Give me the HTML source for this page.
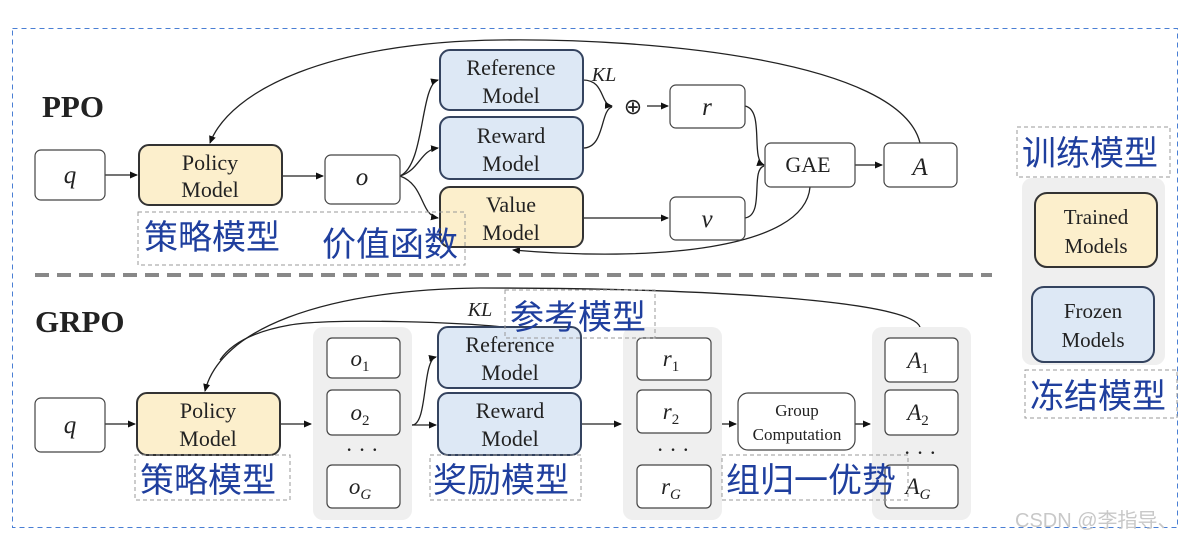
<!DOCTYPE html>
<html><head><meta charset="utf-8"><style>
body{margin:0;background:#fff;}
svg{display:block;}
.s{font-family:"Liberation Serif",serif;fill:#222;}
.cn{font-family:"Liberation Sans","Noto Sans CJK SC",sans-serif;fill:#1f3f9e;font-size:34px;}
</style></head><body>
<svg width="1204" height="537" viewBox="0 0 1204 537" xmlns="http://www.w3.org/2000/svg">
<defs><marker id="ar" markerWidth="8" markerHeight="8" refX="7" refY="4" orient="auto" markerUnits="userSpaceOnUse"><path d="M0,0.5 L8,4 L0,7.5z" fill="#111"/></marker></defs>
<rect x="12.5" y="28.5" width="1165" height="499" fill="none" stroke="#4a7fd4" stroke-dasharray="5,4"/>
<line x1="35" y1="275" x2="992" y2="275" stroke="#888" stroke-width="4" stroke-dasharray="14,8"/>
<g fill="none" stroke="#222" stroke-width="1.3">
<line x1="105" y1="175" x2="137" y2="175" marker-end="url(#ar)"/>
<line x1="282" y1="176" x2="323" y2="176" marker-end="url(#ar)"/>
<path d="M400,176 C425,165 420,85 438,80" marker-end="url(#ar)"/>
<path d="M400,176 C420,170 420,150 438,148" marker-end="url(#ar)"/>
<path d="M400,176 C425,185 420,215 438,218" marker-end="url(#ar)"/>
<path d="M583,80 C605,80 600,105 612,106" marker-end="url(#ar)"/>
<path d="M583,148 C605,148 600,110 612,107"/>
<line x1="647" y1="106" x2="668" y2="106" marker-end="url(#ar)"/>
<line x1="583" y1="218" x2="668" y2="218" marker-end="url(#ar)"/>
<path d="M745,106 C765,110 750,160 764,165" marker-end="url(#ar)"/>
<path d="M745,218 C765,215 750,170 764,166"/>
<line x1="855" y1="165" x2="882" y2="165" marker-end="url(#ar)"/>
<path d="M920,143 C900,60 650,38 500,40 C330,42 230,90 210,143" marker-end="url(#ar)"/>
<path d="M810,187 C805,250 650,262 513,250" marker-end="url(#ar)"/>
<line x1="105" y1="424" x2="135" y2="424" marker-end="url(#ar)"/>
<line x1="280" y1="424" x2="311" y2="424" marker-end="url(#ar)"/>
<path d="M412,425 C428,425 422,360 436,357" marker-end="url(#ar)"/>
<line x1="412" y1="425" x2="436" y2="425" marker-end="url(#ar)"/>
<line x1="581" y1="424" x2="621" y2="424" marker-end="url(#ar)"/>
<line x1="722" y1="424" x2="736" y2="424" marker-end="url(#ar)"/>
<line x1="855" y1="424" x2="870" y2="424" marker-end="url(#ar)"/>
<path d="M920,327 C910,300 700,288 480,288 C320,290 220,330 205,391" marker-end="url(#ar)"/>
<path d="M510,328 C470,322 330,318 290,325 C250,332 230,345 220,360"/>
</g>
<g stroke="#444" stroke-width="1.2">
<rect x="35" y="150" width="70" height="50" rx="6" fill="#fff"/>
<rect x="139" y="145" width="143" height="60" rx="10" fill="#fcefcc" stroke="#333" stroke-width="2"/>
<rect x="325" y="155" width="75" height="49" rx="6" fill="#fff"/>
<rect x="440" y="50" width="143" height="60" rx="10" fill="#dde8f5" stroke="#34435f" stroke-width="2"/>
<rect x="440" y="117" width="143" height="62" rx="10" fill="#dde8f5" stroke="#34435f" stroke-width="2"/>
<rect x="440" y="187" width="143" height="60" rx="10" fill="#fcefcc" stroke="#333" stroke-width="2"/>
<rect x="670" y="85" width="75" height="43" rx="6" fill="#fff"/>
<rect x="670" y="197" width="75" height="43" rx="6" fill="#fff"/>
<rect x="765" y="143" width="90" height="44" rx="6" fill="#fff"/>
<rect x="884" y="143" width="73" height="44" rx="6" fill="#fff"/>
</g>
<g class="s" text-anchor="middle" font-size="22">
<text x="210" y="170">Policy</text><text x="210" y="197">Model</text>
<text x="511" y="75">Reference</text><text x="511" y="103">Model</text>
<text x="511" y="143">Reward</text><text x="511" y="171">Model</text>
<text x="511" y="212">Value</text><text x="511" y="240">Model</text>
<text x="808" y="172">GAE</text>
<text x="70" y="183" font-style="italic" font-size="25">q</text>
<text x="362" y="185" font-style="italic" font-size="25">o</text>
<text x="707" y="115" font-style="italic" font-size="25">r</text>
<text x="707" y="227" font-style="italic" font-size="25">v</text>
<text x="920" y="175" font-style="italic" font-size="25">A</text>
<text x="604" y="81" font-style="italic" font-size="20">KL</text>
<text x="633" y="114" font-size="22">⊕</text>
</g>
<text class="s" x="42" y="117" font-size="31" font-weight="bold">PPO</text>
<text class="s" x="35" y="332" font-size="31" font-weight="bold">GRPO</text>
<g fill="#efefef">
<rect x="313" y="327" width="99" height="193" rx="10"/>
<rect x="623" y="327" width="99" height="193" rx="10"/>
<rect x="872" y="327" width="99" height="193" rx="10"/>
<rect x="1022" y="178" width="143" height="187" rx="10"/>
</g>
<g stroke="#444" stroke-width="1.2" fill="#fff">
<rect x="35" y="398" width="70" height="54" rx="6"/>
<rect x="137" y="393" width="143" height="62" rx="10" fill="#fcefcc" stroke="#333" stroke-width="2"/>
<rect x="438" y="327" width="143" height="61" rx="10" fill="#dde8f5" stroke="#34435f" stroke-width="2"/>
<rect x="438" y="393" width="143" height="62" rx="10" fill="#dde8f5" stroke="#34435f" stroke-width="2"/>
<rect x="327" y="338" width="73" height="40" rx="5"/>
<rect x="327" y="390" width="73" height="45" rx="5"/>
<rect x="327" y="465" width="73" height="43" rx="5"/>
<rect x="637" y="338" width="74" height="42" rx="5"/>
<rect x="637" y="390" width="74" height="43" rx="5"/>
<rect x="637" y="465" width="74" height="43" rx="5"/>
<rect x="738" y="393" width="117" height="57" rx="10"/>
<rect x="885" y="338" width="73" height="44" rx="5"/>
<rect x="885" y="390" width="73" height="45" rx="5"/>
<rect x="885" y="465" width="73" height="43" rx="5"/>
<rect x="1035" y="193" width="122" height="74" rx="12" fill="#fcefcc" stroke="#333" stroke-width="2"/>
<rect x="1032" y="287" width="122" height="75" rx="12" fill="#dde8f5" stroke="#34435f" stroke-width="2"/>
</g>
<g class="s" text-anchor="middle" font-size="22">
<text x="208" y="418">Policy</text><text x="208" y="446">Model</text>
<text x="510" y="352">Reference</text><text x="510" y="380">Model</text>
<text x="510" y="418">Reward</text><text x="510" y="446">Model</text>
<text x="797" y="416" font-size="17">Group</text><text x="797" y="440" font-size="17">Computation</text>
<text x="1096" y="224" font-size="21">Trained</text><text x="1096" y="253" font-size="21">Models</text>
<text x="1093" y="318" font-size="21">Frozen</text><text x="1093" y="347" font-size="21">Models</text>
<text x="70" y="433" font-style="italic" font-size="25">q</text>
<text x="480" y="316" font-style="italic" font-size="20">KL</text>
<g font-style="italic" font-size="23">
<text x="360" y="366">o<tspan font-size="15" dy="5" font-style="normal">1</tspan></text>
<text x="360" y="420">o<tspan font-size="15" dy="5" font-style="normal">2</tspan></text>
<text x="360" y="494">o<tspan font-size="15" dy="5">G</tspan></text>
<text x="671" y="366">r<tspan font-size="15" dy="5" font-style="normal">1</tspan></text>
<text x="671" y="419">r<tspan font-size="15" dy="5" font-style="normal">2</tspan></text>
<text x="671" y="494">r<tspan font-size="15" dy="5">G</tspan></text>
<text x="918" y="368">A<tspan font-size="15" dy="5" font-style="normal">1</tspan></text>
<text x="918" y="420">A<tspan font-size="15" dy="5" font-style="normal">2</tspan></text>
<text x="918" y="494">A<tspan font-size="15" dy="5">G</tspan></text>
</g>
<text x="362" y="457" font-size="22">· · ·</text>
<text x="673" y="457" font-size="22">· · ·</text>
<text x="920" y="460" font-size="22">· · ·</text>
</g>
<g fill="none" stroke="#999" stroke-dasharray="4,3">
<rect x="138" y="212" width="327" height="53"/>
<rect x="135" y="455" width="155" height="45"/>
<rect x="430" y="455" width="151" height="45"/>
<rect x="505" y="290" width="150" height="48"/>
<rect x="722" y="455" width="186" height="45"/>
<rect x="1017" y="127" width="153" height="50"/>
<rect x="1025" y="370" width="152" height="48"/>
</g>
<text class="cn" x="144" y="249">策略模型</text>
<text class="cn" x="322" y="256">价值函数</text>
<text class="cn" x="140" y="492">策略模型</text>
<text class="cn" x="433" y="492">奖励模型</text>
<text class="cn" x="510" y="329">参考模型</text>
<text class="cn" x="726" y="492">组归一优势</text>
<text class="cn" x="1022" y="165">训练模型</text>
<text class="cn" x="1030" y="408">冻结模型</text>
<text x="1015" y="527" font-family="Liberation Sans,'Noto Sans CJK SC',sans-serif" font-size="20" fill="#c8c8c8">CSDN @李指导、</text>
</svg>
</body></html>
